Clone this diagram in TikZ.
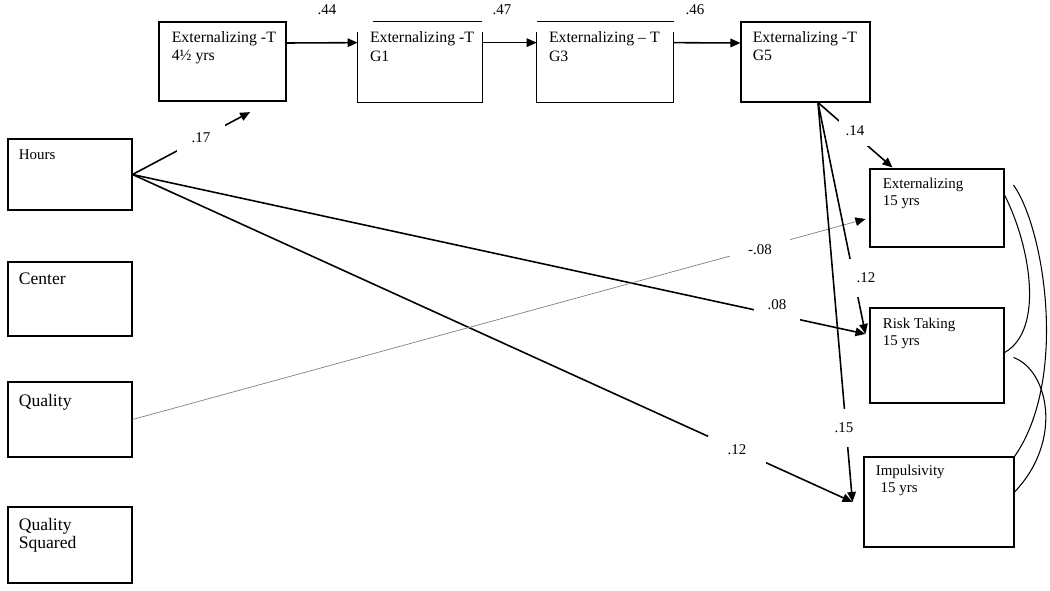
\documentclass[tikz,border=0pt]{standalone}
\usepackage{fontspec}
\setmainfont{Liberation Serif}
\usetikzlibrary{arrows.meta}

\begin{document}
\begin{tikzpicture}[x=0.2mm, y=-0.2mm,
        box/.style={draw, line width=0.6pt, inner sep=0pt},
        openbox/.style={inner sep=0pt},
        frame/.style={line width=0.6pt},
        txt/.style={anchor=north west, inner sep=0pt, align=left, font=\fontsize{9}{10.3}\selectfont},
        smalltxt/.style={txt, font=\fontsize{8.5}{9.7}\selectfont},
        bigtxt/.style={txt, font=\fontsize{10}{10.4}\selectfont},
        lbl/.style={inner sep=0pt, font=\fontsize{8.5}{10}\selectfont},
        gap/.style={lbl, fill=white},
        arr/.style={-{Triangle[length=2mm, width=1.7mm]}, line width=0.9pt},
        grayarr/.style={-{Triangle[length=2mm, width=1.7mm, black]}, draw=gray, line width=0.4pt},
        corr/.style={line width=0.6pt}]
    \useasboundingbox (0,0) rectangle (1050,591);

    % boxes
    \node[box, minimum width=25.4mm, minimum height=15.8mm] (e45) at (222.5,61.5) {};
    \node[openbox, minimum width=24.8mm, minimum height=14mm] (eg1) at (420,67) {};
    \node[openbox, minimum width=27.2mm, minimum height=14mm] (eg3) at (605,67) {};
    \node[box, minimum width=25.8mm, minimum height=16mm] (eg5) at (805.5,62) {};
    \node[box, minimum width=24.8mm, minimum height=14.2mm] (hours) at (70,174.5) {};
    \node[box, minimum width=24.8mm, minimum height=14.8mm] (center) at (70,299) {};
    \node[box, minimum width=24.8mm, minimum height=15mm] (quality) at (70,419.5) {};
    \node[box, minimum width=24.8mm, minimum height=15.2mm] (qualsq) at (70,545) {};
    \node[box, minimum width=26.8mm, minimum height=15.6mm] (ext15) at (937,208) {};
    \node[box, minimum width=26.8mm, minimum height=19mm] (risk) at (937,355.5) {};
    \node[box, minimum width=30mm, minimum height=18mm] (impuls) at (939,502) {};

    \draw[frame] (eg1.north west) -- (eg1.south west) -- (eg1.south east) -- (eg1.north east);
    \draw[frame] ([shift={(15,-10)}]eg1.north west) -- ([shift={(0,-10)}]eg1.north east);
    \draw[frame] (eg3.north west) -- (eg3.south west) -- (eg3.south east) -- (eg3.north east);
    \draw[frame] ([shift={(0,-10)}]eg3.north west) -- ([shift={(1,-10)}]eg3.north east);

    % texts
    \node[txt] (te45) at ([shift={(13,10)}]e45.north west) {Externalizing -T\\4½ yrs};
    \node[txt] (teg1) at ([shift={(12,0)}]eg1.north west) {Externalizing -T\\G1};
    \node[txt] (teg3) at ([shift={(12,0)}]eg3.north west) {Externalizing – T\\G3};
    \node[txt] (teg5) at ([shift={(12,10)}]eg5.north west) {Externalizing -T\\G5};
    \node[smalltxt] (thours) at ([shift={(11,11)}]hours.north west) {Hours};
    \node[bigtxt] (tcenter) at ([shift={(11,11)}]center.north west) {Center};
    \node[bigtxt] (tquality) at ([shift={(11,12)}]quality.north west) {Quality};
    \node[bigtxt] (tqualsq) at ([shift={(11,11)}]qualsq.north west) {Quality\\Squared};
    \node[smalltxt] (text15) at ([shift={(13,9)}]ext15.north west) {Externalizing\\15 yrs};
    \node[smalltxt] (trisk) at ([shift={(13,10)}]risk.north west) {Risk Taking\\15 yrs};
    \node[smalltxt] (timpuls) at ([shift={(12,8)}]impuls.north west) {Impulsivity\\\hspace{2.8pt}15 yrs};

    % stability paths
    \draw[arr] ([shift={(0,-18.5)}]e45.east) -- ([shift={(0,11)}]eg1.north west);
    \draw[arr] ([shift={(0,11)}]eg1.north east) -- ([shift={(0,11)}]eg3.north west);
    \draw[arr] ([shift={(0,11)}]eg3.north east) -- ([shift={(0,-19)}]eg5.west);
    \node[lbl] (l44) at (327,10) {.44};
    \node[lbl] (l47) at (502,10) {.47};
    \node[lbl] (l46) at (695,10) {.46};

    % paths to age 15
    \draw[arr, shorten >=4.5mm] (hours.east) -- ([shift={(47.5,0)}]e45.south);
    \draw[arr] (hours.east) -- ([shift={(-4,-21.5)}]risk.west);
    \draw[arr] (hours.east) -- ([shift={(-11,0)}]impuls.west);
    \draw[grayarr] (quality.east) -- ([shift={(-4,11)}]ext15.west);
    \draw[arr] ([shift={(12.5,0)}]eg5.south) -- ([shift={(23,-1)}]ext15.north west);
    \draw[arr] ([shift={(12.5,0)}]eg5.south) -- ([shift={(-4,-21.5)}]risk.west);
    \draw[arr] ([shift={(12.5,0)}]eg5.south) -- ([shift={(-11,0)}]impuls.west);

    % correlations
    \draw[corr] ([shift={(0,-13)}]ext15.east) .. controls (1030,245) and (1045,330) .. ([shift={(0,-3)}]risk.east);
    \draw[corr] ([shift={(9,-23)}]ext15.east) .. controls (1045,230) and (1068,380) .. (impuls.north east);
    \draw[corr] ([shift={(9,2)}]risk.east) .. controls (1048,370) and (1064,440) .. ([shift={(0,-10)}]impuls.east);

    % coefficients
    \node[gap, minimum width=9.6mm, minimum height=6mm] (l17) at (201,138) {.17};
    \node[gap, minimum width=6.4mm, minimum height=6mm] (l14) at (855,131) {.14};
    \node[gap, minimum width=6.8mm, minimum height=7.6mm] (l12a) at (866,278) {.12};
    \node[gap, minimum width=4.8mm, minimum height=7.6mm] (l15) at (844,428) {.15};
    \node[gap, minimum width=9.2mm, minimum height=6.4mm] (l08) at (777,305) {.08};
    \node[gap, minimum width=12mm, minimum height=4.8mm] (lm08) at (760,250) {-.08};
    \node[gap, minimum width=11.6mm, minimum height=5.8mm] (l12b) at (737,450) {.12};
\end{tikzpicture}
\end{document}
